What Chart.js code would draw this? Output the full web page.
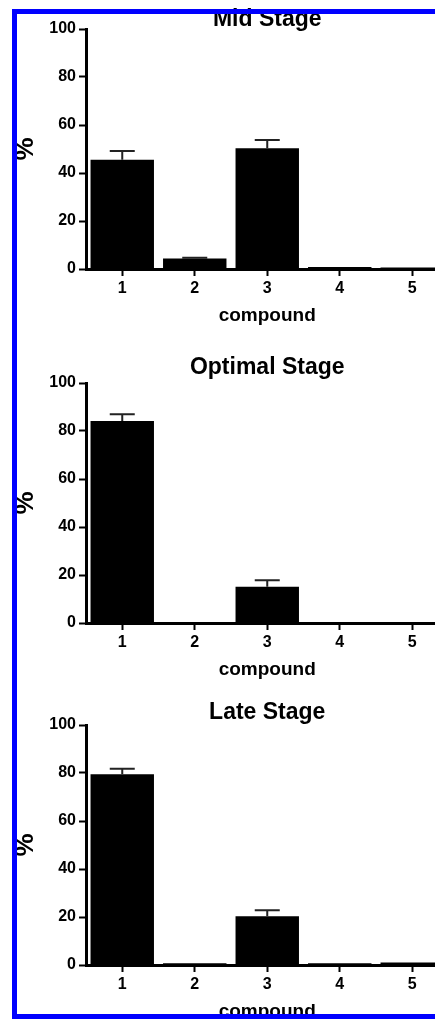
<!DOCTYPE html>
<html>
<head>
<meta charset="utf-8">
<script src="https://cdn.jsdelivr.net/npm/chart.js@4.4.1/dist/chart.umd.min.js"></script>
<style>
  html, body { margin: 0; padding: 0; background: #fff; }
  body { width: 435px; height: 1019px; overflow: hidden; position: relative; }
  canvas { position: absolute; left: 0; }
  .frame {
    position: absolute; left: 12px; top: 9px; width: 520px; height: 1010px;
    border: 5px solid #0000ff; box-sizing: border-box; pointer-events: none; z-index: 5;
  }
</style>
</head>
<body>
<canvas id="midChart" width="460" height="330" style="top:1px"></canvas>
<canvas id="optimalChart" width="460" height="336" style="top:349px"></canvas>
<canvas id="lateChart" width="460" height="333" style="top:694px"></canvas>
<div class="frame"></div>

<script>
// compounds on the x axis, percent on the y axis
const compounds = ['1', '2', '3', '4', '5'];
const yTicks = [0, 20, 40, 60, 80, 100];

const midValues = [45.5, 4.4, 50.3, 0.8, 0.6];
const midErrors = [3.7, 0.3, 3.5, 0, 0];

const optimalValues = [84.2, 0, 15.1, 0, 0];
const optimalErrors = [2.8, 0, 2.7, 0, 0];

const lateValues = [79.5, 0.7, 20.3, 0.7, 1.0];
const lateErrors = [2.3, 0, 2.5, 0, 0];

const FONT = '"Liberation Sans", Arial, sans-serif';

// upper whisker with a cap on every bar that has an SEM
const errorBars = {
  id: 'errorBars',
  afterDatasetsDraw(chart) {
    const errs = chart.options.plugins.errorBars.errors;
    const y = chart.scales.y;
    const ctx = chart.ctx;
    chart.getDatasetMeta(0).data.forEach((bar, i) => {
      const e = errs[i];
      if (!e) return;
      const v = chart.data.datasets[0].data[i];
      const top = y.getPixelForValue(v + e);
      ctx.save();
      ctx.strokeStyle = '#222';
      ctx.lineWidth = 2;
      ctx.beginPath();
      ctx.moveTo(bar.x, bar.y);
      ctx.lineTo(bar.x, top);
      ctx.moveTo(bar.x - 12.5, top);
      ctx.lineTo(bar.x + 12.5, top);
      ctx.stroke();
      ctx.restore();
    });
  }
};

function stageChart(id, title, values, errors, titleGap) {
  return new Chart(document.getElementById(id), {
    type: 'bar',
    data: {
      labels: compounds,
      datasets: [{
        data: values,
        backgroundColor: '#000',
        borderWidth: 0,
        categoryPercentage: 1,
        barPercentage: 0.875
      }]
    },
    options: {
      responsive: false,
      animation: false,
      layout: { padding: { top: 10, left: 0, right: 11.5, bottom: 0 } },
      plugins: {
        legend: { display: false },
        tooltip: { enabled: false },
        title: {
          display: true,
          fullSize: false,
          text: title,
          color: '#000',
          font: { family: FONT, size: 23, weight: 'bold', lineHeight: '18px' },
          padding: { top: 0, bottom: titleGap }
        },
        errorBars: { errors: errors }
      },
      scales: {
        x: {
          afterFit: s => { s.height = 62; },
          border: { color: '#000', width: 3 },
          grid: {
            offset: false, drawOnChartArea: false, drawTicks: true,
            tickLength: 7, tickWidth: 2, tickColor: '#000'
          },
          ticks: { color: '#000', padding: 3, font: { family: FONT, size: 16, weight: 'bold' } },
          title: {
            display: true, text: 'compound', color: '#000',
            font: { family: FONT, size: 19, weight: 'bold', lineHeight: '23px' },
            padding: { top: 5, bottom: 4 }
          }
        },
        y: {
          min: 0, max: 100,
          afterFit: s => { s.width = 86; },
          afterBuildTicks: s => { s.ticks = yTicks.map(v => ({ value: v })); },
          border: { color: '#000', width: 3 },
          grid: {
            drawOnChartArea: false, drawTicks: true,
            tickLength: 7, tickWidth: 2, tickColor: '#000'
          },
          ticks: { color: '#000', padding: 3, font: { family: FONT, size: 16, weight: 'bold' } },
          title: {
            display: true, text: '%', color: '#000',
            font: { family: FONT, size: 26, weight: 'bold', lineHeight: '26px' },
            padding: { top: 13, bottom: 0 }
          }
        }
      }
    },
    plugins: [errorBars]
  });
}

stageChart('midChart', 'Mid Stage', midValues, midErrors, 0);
stageChart('optimalChart', 'Optimal Stage', optimalValues, optimalErrors, 6);
stageChart('lateChart', 'Late Stage', lateValues, lateErrors, 3);
</script>
</body>
</html>
